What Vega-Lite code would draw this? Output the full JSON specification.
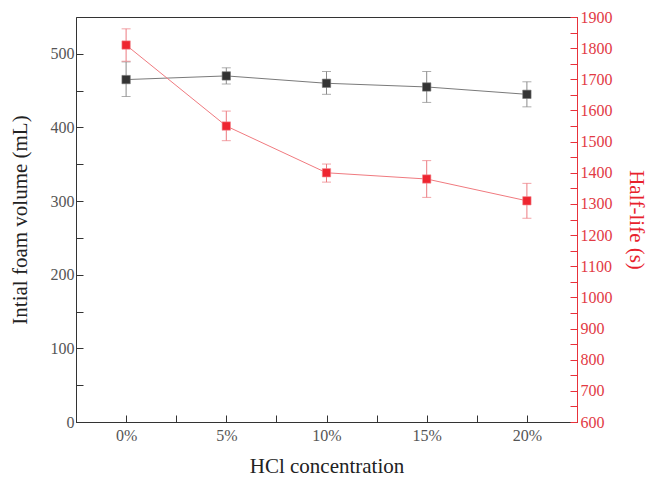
{
  "$schema": "https://vega.github.io/schema/vega-lite/v6.json",
  "width": 501,
  "height": 405,
  "autosize": {"type": "none"},
  "padding": {"left": 76, "top": 17, "right": 72, "bottom": 57},
  "background": "white",
  "config": {
    "font": "Liberation Serif",
    "view": {"stroke": "#333333", "strokeWidth": 1},
    "axis": {
      "grid": false,
      "labelFont": "Liberation Serif",
      "titleFont": "Liberation Serif",
      "labelFontSize": 16,
      "titleFontSize": 21,
      "titleFontWeight": "normal",
      "labelColor": "#555555",
      "titleColor": "#222222",
      "domainColor": "#333333",
      "tickColor": "#333333",
      "ticks": true,
      "tickSize": -7,
      "labelFlush": false
    }
  },
  "data": {
    "values": [
      {"conc": 0, "vol": 465, "vol_lo": 442, "vol_hi": 489, "hl": 1810, "hl_lo": 1758, "hl_hi": 1862},
      {"conc": 5, "vol": 470, "vol_lo": 459, "vol_hi": 481, "hl": 1550, "hl_lo": 1503, "hl_hi": 1598},
      {"conc": 10, "vol": 460, "vol_lo": 445, "vol_hi": 476, "hl": 1400, "hl_lo": 1370, "hl_hi": 1428},
      {"conc": 15, "vol": 455, "vol_lo": 434, "vol_hi": 476, "hl": 1380, "hl_lo": 1321, "hl_hi": 1439},
      {"conc": 20, "vol": 445, "vol_lo": 428, "vol_hi": 462, "hl": 1310, "hl_lo": 1254, "hl_hi": 1366}
    ]
  },
  "encoding": {
    "x": {
      "field": "conc",
      "type": "quantitative",
      "scale": {"domain": [-2.5, 22.5], "nice": false, "zero": false},
      "axis": {
        "title": "HCl concentration",
        "values": [0, 2.5, 5, 7.5, 10, 12.5, 15, 17.5, 20],
        "labelExpr": "datum.value % 5 === 0 ? datum.value + '%' : ''",
        "labelFont": "Liberation Serif",
        "titleFont": "Liberation Serif",
        "labelFontSize": 16,
        "titleFontSize": 21,
        "tickSize": -7,
        "labelPadding": 12,
        "titlePadding": 12,
        "encode": {"ticks": {"update": {"y2": {"signal": "datum.value % 5 === 0 ? -7 : -4"}}}}
      }
    }
  },
  "layer": [
    {
      "encoding": {
        "y": {
          "field": "vol",
          "type": "quantitative",
          "title": "Intial foam volume (mL)",
          "scale": {"domain": [0, 550], "nice": false},
          "axis": {
            "orient": "left",
            "values": [0, 50, 100, 150, 200, 250, 300, 350, 400, 450, 500],
            "labelExpr": "datum.value % 100 === 0 ? datum.label : ''",
            "labelFont": "Liberation Serif",
            "titleFont": "Liberation Serif",
            "labelFontSize": 16,
            "titleFontSize": 21,
            "tickSize": -7,
            "labelPadding": 9,
            "titlePadding": 20,
            "encode": {"ticks": {"update": {"x2": {"signal": "datum.value % 100 === 0 ? 7 : 4"}}}}
          }
        }
      },
      "layer": [
        {
          "mark": {"type": "line", "color": "#7a7a7a", "strokeWidth": 1},
          "encoding": {}
        },
        {
          "mark": {"type": "rule", "color": "#8a8a8a", "strokeWidth": 1},
          "encoding": {
            "y": {"field": "vol_lo", "type": "quantitative", "title": "Intial foam volume (mL)"},
            "y2": {"field": "vol_hi"}
          }
        },
        {
          "mark": {"type": "tick", "orient": "horizontal", "size": 9, "thickness": 1, "color": "#8a8a8a"},
          "encoding": {"y": {"field": "vol_lo", "type": "quantitative", "title": "Intial foam volume (mL)"}}
        },
        {
          "mark": {"type": "tick", "orient": "horizontal", "size": 9, "thickness": 1, "color": "#8a8a8a"},
          "encoding": {"y": {"field": "vol_hi", "type": "quantitative", "title": "Intial foam volume (mL)"}}
        },
        {
          "mark": {"type": "point", "shape": "square", "filled": true, "size": 70, "color": "#333333", "opacity": 1, "stroke": "#777777", "strokeWidth": 0.6},
          "encoding": {}
        }
      ]
    },
    {
      "encoding": {
        "y": {
          "field": "hl",
          "type": "quantitative",
          "title": "Half-life (s)",
          "scale": {"domain": [600, 1900], "nice": false, "zero": false},
          "axis": {
            "orient": "right",
            "values": [600, 650, 700, 750, 800, 850, 900, 950, 1000, 1050, 1100, 1150, 1200, 1250, 1300, 1350, 1400, 1450, 1500, 1550, 1600, 1650, 1700, 1750, 1800, 1850, 1900],
            "labelExpr": "datum.value % 100 === 0 ? '' + datum.value : ''",
            "labelFont": "Liberation Serif",
            "titleFont": "Liberation Serif",
            "labelFontSize": 16,
            "titleFontSize": 21,
            "tickSize": -7,
            "labelPadding": 10,
            "titlePadding": 13,
            "domainColor": "#e8313a",
            "tickColor": "#e8313a",
            "labelColor": "#e23a44",
            "titleColor": "#e8212c",
            "encode": {"ticks": {"update": {"x2": {"signal": "datum.value % 100 === 0 ? -7 : -4"}}}}
          }
        }
      },
      "layer": [
        {
          "mark": {"type": "line", "color": "#f07a7f", "strokeWidth": 1},
          "encoding": {}
        },
        {
          "mark": {"type": "rule", "color": "#ec7a80", "strokeWidth": 1},
          "encoding": {
            "y": {"field": "hl_lo", "type": "quantitative", "title": "Half-life (s)"},
            "y2": {"field": "hl_hi"}
          }
        },
        {
          "mark": {"type": "tick", "orient": "horizontal", "size": 9, "thickness": 1, "color": "#ec7a80"},
          "encoding": {"y": {"field": "hl_lo", "type": "quantitative", "title": "Half-life (s)"}}
        },
        {
          "mark": {"type": "tick", "orient": "horizontal", "size": 9, "thickness": 1, "color": "#ec7a80"},
          "encoding": {"y": {"field": "hl_hi", "type": "quantitative", "title": "Half-life (s)"}}
        },
        {
          "mark": {"type": "point", "shape": "square", "filled": true, "size": 70, "color": "#ee2530", "opacity": 1, "stroke": "#f48a90", "strokeWidth": 0.6},
          "encoding": {}
        }
      ]
    }
  ],
  "resolve": {"scale": {"y": "independent"}, "axis": {"y": "independent"}}
}
